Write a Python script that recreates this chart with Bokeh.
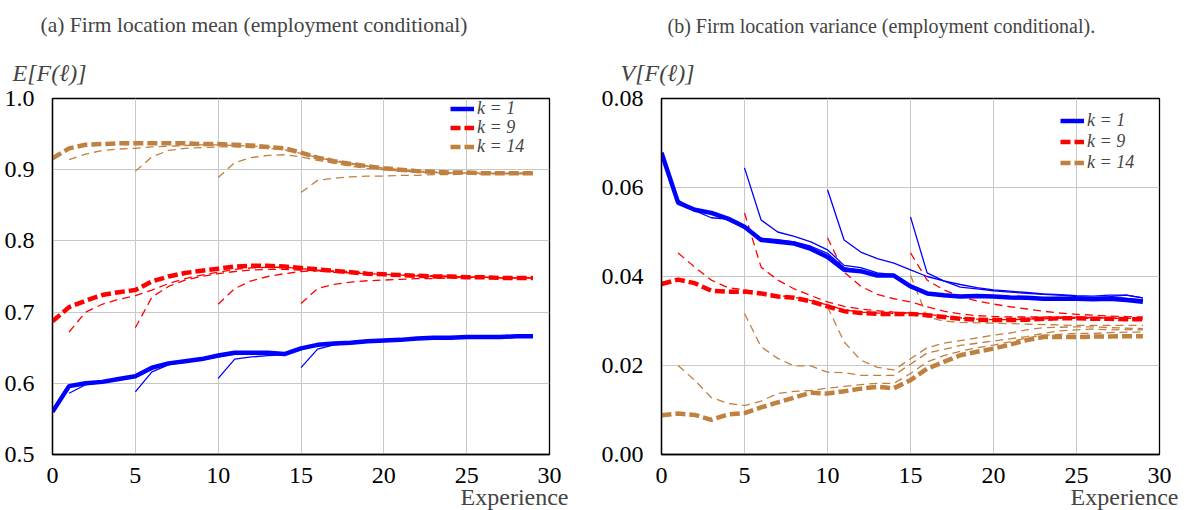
from bokeh.plotting import figure
from bokeh.layouts import row
from bokeh.models import Title, FixedTicker, Legend, LegendItem, Range1d, NumeralTickFormatter
from bokeh.embed import file_html
from bokeh.resources import INLINE

# ---------------- data ----------------
cohort_starts = [0, 1, 5, 10, 15]
x_ticks = [0, 5, 10, 15, 20, 25, 30]
mean_ticks = [0.5, 0.6, 0.7, 0.8, 0.9, 1.0]
var_ticks = [0.00, 0.02, 0.04, 0.06, 0.08]
legend_labels = ["k = 1", "k = 9", "k = 14"]

# Panel (a): mean, k = 1
mean_k1_c0 = [0.560, 0.596, 0.600, 0.602, 0.606, 0.610, 0.622, 0.628, 0.631, 0.634, 0.639, 0.643, 0.643, 0.643, 0.641,
              0.649, 0.654, 0.656, 0.657, 0.659, 0.660, 0.661, 0.663, 0.664, 0.664, 0.665, 0.665, 0.665, 0.666, 0.666]
mean_k1_c1 = [0.586, 0.598, 0.601, 0.605, 0.609, 0.620, 0.627, 0.630, 0.633, 0.638, 0.642, 0.643, 0.643, 0.641,
              0.649, 0.654, 0.656, 0.657, 0.659, 0.660, 0.661, 0.663, 0.664, 0.664, 0.665, 0.665, 0.665, 0.666, 0.666]
mean_k1_c5 = [0.588, 0.616, 0.626, 0.630, 0.633, 0.637, 0.641, 0.642, 0.642, 0.641, 0.648, 0.653, 0.655, 0.657,
              0.659, 0.660, 0.661, 0.662, 0.663, 0.664, 0.665, 0.665, 0.665, 0.666, 0.666]
mean_k1_c10 = [0.607, 0.634, 0.637, 0.639, 0.640, 0.648, 0.653, 0.655, 0.657, 0.658, 0.660, 0.661, 0.662, 0.663,
               0.664, 0.665, 0.665, 0.665, 0.666, 0.666]
mean_k1_c15 = [0.622, 0.648, 0.654, 0.656, 0.658, 0.660, 0.661, 0.662, 0.663, 0.664, 0.665, 0.665, 0.665, 0.666, 0.666]

# Panel (a): mean, k = 9
mean_k9_c0 = [0.687, 0.707, 0.716, 0.724, 0.728, 0.731, 0.743, 0.750, 0.755, 0.758, 0.761, 0.764, 0.765, 0.765, 0.764,
              0.762, 0.760, 0.758, 0.756, 0.754, 0.753, 0.752, 0.751, 0.750, 0.750, 0.749, 0.749, 0.748, 0.748, 0.748]
mean_k9_c1 = [0.672, 0.700, 0.711, 0.718, 0.723, 0.731, 0.740, 0.747, 0.752, 0.756, 0.760, 0.762, 0.763, 0.763,
              0.761, 0.759, 0.757, 0.755, 0.754, 0.753, 0.752, 0.751, 0.750, 0.750, 0.749, 0.749, 0.748, 0.748, 0.748]
mean_k9_c5 = [0.678, 0.721, 0.736, 0.745, 0.750, 0.754, 0.757, 0.759, 0.760, 0.760, 0.759, 0.758, 0.756, 0.755,
              0.754, 0.753, 0.752, 0.751, 0.750, 0.750, 0.749, 0.749, 0.748, 0.748, 0.748]
mean_k9_c10 = [0.711, 0.733, 0.744, 0.750, 0.754, 0.757, 0.758, 0.758, 0.757, 0.755, 0.754, 0.753, 0.752, 0.751,
               0.750, 0.749, 0.749, 0.748, 0.748, 0.748]
mean_k9_c15 = [0.712, 0.733, 0.739, 0.742, 0.744, 0.745, 0.746, 0.747, 0.747, 0.748, 0.748, 0.748, 0.748, 0.748, 0.748]

# Panel (a): mean, k = 14
mean_k14_c0 = [0.916, 0.930, 0.935, 0.936, 0.937, 0.937, 0.937, 0.937, 0.937, 0.936, 0.936, 0.935, 0.934, 0.932, 0.930,
               0.924, 0.917, 0.912, 0.908, 0.905, 0.902, 0.900, 0.898, 0.897, 0.896, 0.896, 0.895, 0.895, 0.895, 0.895]
mean_k14_c1 = [0.914, 0.922, 0.927, 0.929, 0.930, 0.932, 0.933, 0.934, 0.935, 0.935, 0.934, 0.933, 0.932, 0.930,
               0.925, 0.918, 0.913, 0.909, 0.905, 0.902, 0.900, 0.898, 0.897, 0.896, 0.896, 0.895, 0.895, 0.895, 0.895]
mean_k14_c5 = [0.898, 0.918, 0.927, 0.930, 0.931, 0.932, 0.932, 0.931, 0.930, 0.928, 0.923, 0.917, 0.912, 0.908,
               0.905, 0.902, 0.900, 0.898, 0.897, 0.896, 0.896, 0.895, 0.895, 0.895, 0.895]
mean_k14_c10 = [0.889, 0.910, 0.917, 0.920, 0.921, 0.918, 0.913, 0.909, 0.905, 0.902, 0.900, 0.898, 0.897, 0.896,
                0.895, 0.895, 0.895, 0.895, 0.894, 0.894]
mean_k14_c15 = [0.868, 0.885, 0.888, 0.890, 0.891, 0.891, 0.892, 0.892, 0.893, 0.893, 0.894, 0.894, 0.894, 0.894, 0.894]

# Panel (b): variance, k = 1
var_k1_c0 = [0.0678, 0.0566, 0.0550, 0.0543, 0.0530, 0.0512, 0.0482, 0.0478, 0.0474, 0.0462, 0.0444, 0.0415, 0.0412,
             0.0402, 0.0402, 0.0378, 0.0362, 0.0358, 0.0355, 0.0356, 0.0355, 0.0353, 0.0352, 0.0350, 0.0350, 0.0350,
             0.0349, 0.0350, 0.0347, 0.0343]
var_k1_c1 = [0.0572, 0.0548, 0.0532, 0.0529, 0.0508, 0.0486, 0.0483, 0.0478, 0.0468, 0.0452, 0.0420, 0.0414, 0.0404,
             0.0401, 0.0375, 0.0361, 0.0357, 0.0355, 0.0357, 0.0356, 0.0354, 0.0353, 0.0351, 0.0352, 0.0351, 0.0350,
             0.0352, 0.0350, 0.0346]
var_k1_c5 = [0.0644, 0.0527, 0.0500, 0.0490, 0.0478, 0.0460, 0.0425, 0.0420, 0.0408, 0.0404, 0.0380, 0.0364, 0.0360,
             0.0357, 0.0358, 0.0357, 0.0355, 0.0354, 0.0352, 0.0353, 0.0352, 0.0351, 0.0353, 0.0351, 0.0348]
var_k1_c10 = [0.0595, 0.0482, 0.0455, 0.0440, 0.0430, 0.0415, 0.0400, 0.0390, 0.0382, 0.0375, 0.0370, 0.0367, 0.0364,
              0.0361, 0.0359, 0.0357, 0.0356, 0.0358, 0.0358, 0.0352]
var_k1_c15 = [0.0534, 0.0408, 0.0390, 0.0376, 0.0372, 0.0368, 0.0365, 0.0362, 0.0360, 0.0358, 0.0355, 0.0353, 0.0355,
              0.0358, 0.0352]

# Panel (b): variance, k = 9
var_k9_c0 = [0.0383, 0.0393, 0.0385, 0.0368, 0.0366, 0.0366, 0.0362, 0.0355, 0.0352, 0.0344, 0.0333, 0.0322, 0.0318,
             0.0316, 0.0316, 0.0316, 0.0313, 0.0309, 0.0305, 0.0303, 0.0302, 0.0302, 0.0303, 0.0305, 0.0306, 0.0306,
             0.0305, 0.0305, 0.0304, 0.0304]
var_k9_c1 = [0.0453, 0.0421, 0.0392, 0.0375, 0.0370, 0.0364, 0.0357, 0.0353, 0.0346, 0.0336, 0.0325, 0.0320, 0.0318,
             0.0317, 0.0317, 0.0314, 0.0310, 0.0306, 0.0304, 0.0303, 0.0303, 0.0304, 0.0305, 0.0306, 0.0306, 0.0306,
             0.0305, 0.0305, 0.0305]
var_k9_c5 = [0.0543, 0.0421, 0.0392, 0.0372, 0.0357, 0.0343, 0.0333, 0.0327, 0.0323, 0.0320, 0.0318, 0.0315, 0.0311,
             0.0307, 0.0305, 0.0304, 0.0304, 0.0305, 0.0306, 0.0307, 0.0307, 0.0307, 0.0306, 0.0306, 0.0305]
var_k9_c10 = [0.0487, 0.0410, 0.0378, 0.0360, 0.0350, 0.0343, 0.0332, 0.0322, 0.0316, 0.0312, 0.0310, 0.0309, 0.0309,
              0.0309, 0.0309, 0.0308, 0.0308, 0.0307, 0.0306, 0.0306]
var_k9_c15 = [0.0453, 0.0392, 0.0370, 0.0355, 0.0345, 0.0338, 0.0332, 0.0327, 0.0322, 0.0318, 0.0315, 0.0313, 0.0311,
              0.0310, 0.0309]

# Panel (b): variance, k = 14
var_k14_c0 = [0.0088, 0.0092, 0.0089, 0.0078, 0.0090, 0.0093, 0.0106, 0.0117, 0.0128, 0.0139, 0.0137, 0.0142, 0.0148,
              0.0152, 0.0149, 0.0167, 0.0193, 0.0208, 0.0223, 0.0231, 0.0238, 0.0247, 0.0257, 0.0264, 0.0264, 0.0264,
              0.0265, 0.0265, 0.0266, 0.0266]
var_k14_c1 = [0.0200, 0.0167, 0.0128, 0.0115, 0.0110, 0.0120, 0.0137, 0.0142, 0.0144, 0.0149, 0.0153, 0.0157, 0.0160,
              0.0160, 0.0182, 0.0208, 0.0222, 0.0232, 0.0240, 0.0246, 0.0253, 0.0262, 0.0268, 0.0270, 0.0272, 0.0272,
              0.0274, 0.0275, 0.0275]
var_k14_c5 = [0.0317, 0.0242, 0.0216, 0.0199, 0.0199, 0.0185, 0.0184, 0.0178, 0.0178, 0.0178, 0.0203, 0.0228, 0.0236,
              0.0245, 0.0250, 0.0255, 0.0260, 0.0265, 0.0272, 0.0278, 0.0280, 0.0282, 0.0280, 0.0281, 0.0280]
var_k14_c10 = [0.0332, 0.0253, 0.0212, 0.0196, 0.0190, 0.0215, 0.0240, 0.0250, 0.0256, 0.0262, 0.0268, 0.0273, 0.0280,
               0.0285, 0.0286, 0.0287, 0.0287, 0.0285, 0.0284, 0.0283]
var_k14_c15 = [0.0403, 0.0309, 0.0300, 0.0297, 0.0296, 0.0295, 0.0294, 0.0293, 0.0292, 0.0291, 0.0290, 0.0290, 0.0290,
               0.0290, 0.0290]

mean_series = {
    "k1": [mean_k1_c0, mean_k1_c1, mean_k1_c5, mean_k1_c10, mean_k1_c15],
    "k9": [mean_k9_c0, mean_k9_c1, mean_k9_c5, mean_k9_c10, mean_k9_c15],
    "k14": [mean_k14_c0, mean_k14_c1, mean_k14_c5, mean_k14_c10, mean_k14_c15],
}
var_series = {
    "k1": [var_k1_c0, var_k1_c1, var_k1_c5, var_k1_c10, var_k1_c15],
    "k9": [var_k9_c0, var_k9_c1, var_k9_c5, var_k9_c10, var_k9_c15],
    "k14": [var_k14_c0, var_k14_c1, var_k14_c5, var_k14_c10, var_k14_c15],
}

# ---------------- styling ----------------
SERIF = "Liberation Serif"
COLORS = {"k1": "#0000ff", "k9": "#ff0000", "k14": "#bf8040"}
THICK_DASH = {"k1": "solid", "k9": "10 4", "k14": "10 4"}
THIN_DASH = {"k1": "solid", "k9": "8 5", "k14": "8 5"}


def make_panel(series, yr, yticks, yfmt, title, ylabel, bl, br, title_off, title_size, ylab_off, leg_x, leg_ys):
    p = figure(width=595, height=510, x_range=Range1d(0, 30), y_range=Range1d(*yr),
               output_backend="svg", toolbar_location=None, title=title,
               min_border_left=bl, min_border_right=br, min_border_top=98, min_border_bottom=56)
    p.title.text_font = SERIF
    p.title.text_font_size = title_size
    p.title.text_font_style = "normal"
    p.title.align = "left"
    p.title.offset = title_off
    p.title.standoff = 18
    p.add_layout(Title(text=ylabel, text_font=SERIF, text_font_size="24px", text_font_style="italic",
                       align="left", offset=ylab_off, standoff=25), "above")
    xt = Title(text="Experience", text_font=SERIF, text_font_size="24px", text_font_style="normal",
               align="right", offset=-19)
    try:
        xt.standoff = -8
    except Exception:
        xt.standoff = 0
    p.add_layout(xt, "below")

    for ax in (p.xaxis[0], p.yaxis[0]):
        ax.major_tick_line_color = None
        ax.minor_tick_line_color = None
        ax.axis_line_color = "black"
        ax.axis_line_width = 1.3
        ax.major_label_text_font = SERIF
        ax.major_label_text_font_size = "24px"
        ax.major_label_text_color = "black"
    p.xaxis.major_label_standoff = 7
    p.yaxis.major_label_standoff = 12
    p.xaxis.ticker = FixedTicker(ticks=x_ticks)
    p.yaxis.ticker = FixedTicker(ticks=yticks)
    p.yaxis.formatter = NumeralTickFormatter(format=yfmt)
    p.grid.grid_line_color = "#c8c8c8"
    p.grid.grid_line_width = 1
    p.outline_line_color = "black"
    p.outline_line_width = 1.3
    p.outline_line_alpha = 1

    thick = {}
    for key in ["k14", "k9", "k1"]:
        for start, ys in zip(cohort_starts[1:], series[key][1:]):
            xs = list(range(start, start + len(ys)))
            p.line(xs, ys, line_color=COLORS[key], line_width=1.3, line_dash=THIN_DASH[key])
    for key in ["k14", "k9", "k1"]:
        ys = series[key][0]
        xs = list(range(0, len(ys)))
        thick[key] = p.line(xs, ys, line_color=COLORS[key], line_width=4.5, line_dash=THICK_DASH[key])

    for lab, k, ly in zip(legend_labels, ["k1", "k9", "k14"], leg_ys):
        leg = Legend(items=[LegendItem(label=lab, renderers=[thick[k]])], location=(leg_x, ly),
                     background_fill_alpha=0, border_line_color=None,
                     label_text_font=SERIF, label_text_font_size="18px", label_text_font_style="italic",
                     glyph_width=24, glyph_height=17, label_height=17, spacing=0,
                     padding=0, margin=0, label_standoff=3)
        p.add_layout(leg)
    return p


p1 = make_panel(mean_series, (0.5, 1.0), mean_ticks, "0.0",
                "(a) Firm location mean (employment conditional)", "E[F(ℓ)]", 52, 46, -12, "21.5px", -40,
                398, [335, 316, 297])
p2 = make_panel(var_series, (0.0, 0.08), var_ticks, "0.00",
                "(b) Firm location variance (employment conditional).", "V[F(ℓ)]", 66, 31, 6, "20px", -41,
                399, [323, 302, 281])

layout = row(p1, p2)
open("out.html", "w").write(file_html(layout, INLINE))
